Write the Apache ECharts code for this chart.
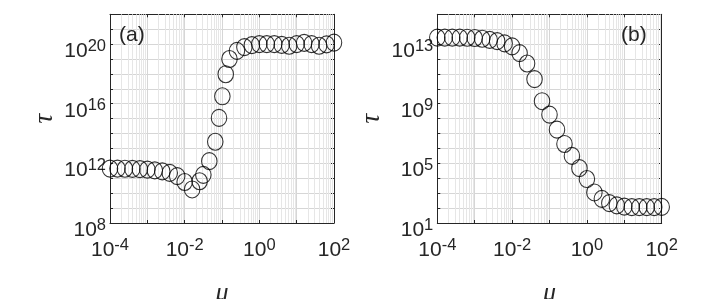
<!DOCTYPE html>
<html><head><meta charset="utf-8">
<script src="https://cdn.jsdelivr.net/npm/echarts@6/dist/echarts.min.js"></script>
<style>html,body{margin:0;padding:0;background:#fff}#c{width:728px;height:299px}</style>
</head><body><div id="c"></div>
<script>
// ---- data (mu, tau) ----
const muA = [1.0e-4, 1.585e-4, 2.512e-4, 3.981e-4, 6.310e-4, 1.0e-3, 1.585e-3, 2.512e-3, 3.981e-3, 6.310e-3,
  1.0e-2, 1.585e-2, 2.512e-2, 3.162e-2, 4.571e-2, 6.607e-2, 8.318e-2, 0.1023, 0.1259, 0.1585,
  0.2512, 0.3981, 0.6310, 1.0, 1.585, 2.512, 3.981, 6.310, 10, 15.85, 25.12, 39.81, 63.10, 100];
const tauA = [4.47e11, 4.47e11, 4.37e11, 4.27e11, 4.07e11, 3.80e11, 3.39e11, 2.88e11, 2.29e11, 1.41e11,
  5.62e10, 1.78e10, 6.31e10, 1.70e11, 1.41e12, 2.82e13, 1.12e15, 3.16e16, 9.55e17, 1.00e19,
  3.55e19, 6.31e19, 8.51e19, 1.0e20, 1.0e20, 1.0e20, 8.91e19, 7.76e19, 1.0e20, 1.20e20, 1.0e20, 7.76e19, 9.55e19, 1.26e20];
const muB = [1.0e-4, 1.585e-4, 2.512e-4, 3.981e-4, 6.310e-4, 1.0e-3, 1.585e-3, 2.512e-3, 3.981e-3, 6.310e-3,
  1.0e-2, 1.585e-2, 2.512e-2, 3.981e-2, 6.310e-2, 0.1, 0.1585, 0.2512, 0.3981, 0.6310,
  1.0, 1.585, 2.512, 3.981, 6.310, 10, 15.85, 25.12, 39.81, 63.10, 100];
const tauB = [2.75e13, 2.75e13, 2.75e13, 2.75e13, 2.69e13, 2.57e13, 2.29e13, 1.91e13, 1.58e13, 1.12e13,
  7.08e12, 2.51e12, 5.01e11, 4.47e10, 1.48e9, 1.86e8, 1.82e7, 2.00e6, 3.16e5, 4.79e4,
  8.91e3, 1.12e3, 417, 214, 151, 126, 117, 115, 115, 115, 120];
// tick label exponents
const xTickExp = [-4, -2, 0, 2];
const yTickExpA = [8, 12, 16, 20];
const yTickExpB = [1, 5, 9, 13];
const panelLabels = ['(a)', '(b)'];

const FONT = 'Liberation Sans, Arial, sans-serif';
const AX = '#262626';
const rich = {
  b: {fontSize: 21, fontFamily: FONT, color: AX, lineHeight: 21, padding: [6, 0, 0, 0]},
  s: {fontSize: 16.5, fontFamily: FONT, color: AX, lineHeight: 16, verticalAlign: 'top'}
};
function supFmt(exps) {
  return function (v) {
    const e = Math.round(v);
    if (Math.abs(v - e) > 1e-6 || exps.indexOf(e) < 0) return '';
    return '{b|10}{s|' + e + '}';
  };
}
const minorX = [];
for (let n = -4; n < 2; n++) for (let m = 2; m <= 9; m++) minorX.push(n + Math.log10(m));

const grids = [
  {left: 110, top: 14.3, width: 224, height: 208.7, outerBoundsMode: 'none'},
  {left: 437.3, top: 14.3, width: 224.4, height: 208.7, outerBoundsMode: 'none'}
];
const yRanges = [[8, 22], [1, 15]];
const yExps = [yTickExpA, yTickExpB];

const xAxes = [], yAxes = [], series = [];
[0, 1].forEach(function (g) {
  xAxes.push({
    gridIndex: g, type: 'value', min: -4, max: 2, interval: 1, position: 'bottom',
    axisLine: {show: true, onZero: false, lineStyle: {color: AX, width: 1}},
    axisTick: {show: true, inside: true, length: 3, lineStyle: {color: AX}},
    axisLabel: {formatter: supFmt(xTickExp), rich: rich, margin: 14, showMinLabel: true, showMaxLabel: true},
    splitLine: {show: true, lineStyle: {color: '#d6d6d6', width: 1}},
    name: 'μ', nameLocation: 'middle', nameGap: 57,
    nameTextStyle: {fontFamily: 'Liberation Serif', fontStyle: 'italic', fontSize: 26, color: AX}
  });
  xAxes.push({
    gridIndex: g, type: 'value', min: -4, max: 2, interval: 1, position: 'top',
    axisLine: {show: true, onZero: false, lineStyle: {color: AX, width: 1}},
    axisTick: {show: true, inside: true, length: 3, lineStyle: {color: AX}},
    axisLabel: {show: false}, splitLine: {show: false}
  });
  yAxes.push({
    gridIndex: g, type: 'value', min: yRanges[g][0], max: yRanges[g][1], interval: 1, position: 'left',
    axisLine: {show: true, onZero: false, lineStyle: {color: AX, width: 1}},
    axisTick: {show: true, inside: true, length: 3, lineStyle: {color: AX}},
    axisLabel: {formatter: supFmt(yExps[g]), rich: rich, margin: 4, padding: [8, 0, 0, 0],
      showMinLabel: true, showMaxLabel: true},
    splitLine: {show: true, lineStyle: {color: '#d6d6d6', width: 1}},
    name: 'τ', nameLocation: 'middle', nameGap: 52,
    nameTextStyle: {fontFamily: 'Liberation Serif', fontStyle: 'italic', fontSize: 27, color: AX}
  });
  yAxes.push({
    gridIndex: g, type: 'value', min: yRanges[g][0], max: yRanges[g][1], interval: 1, position: 'right',
    axisLine: {show: true, onZero: false, lineStyle: {color: AX, width: 1}},
    axisTick: {show: true, inside: true, length: 3, lineStyle: {color: AX}},
    axisLabel: {show: false}, splitLine: {show: false}
  });
  series.push({
    type: 'scatter', xAxisIndex: g * 2, yAxisIndex: g * 2, data: [], silent: true, z: 1,
    markLine: {
      silent: true, z: 1, symbol: ['none', 'none'], label: {show: false}, animation: false,
      lineStyle: {color: '#e6e6e6', width: 1, type: 'solid'},
      emphasis: {disabled: true},
      data: minorX.map(function (v) { return {xAxis: v}; })
    }
  });
});
function pts(mu, tau) { return mu.map(function (m, i) { return [Math.log10(m), Math.log10(tau[i])]; }); }
const circleStyle = {color: 'rgba(0,0,0,0)', borderColor: '#000', borderWidth: 1.1};
series.push({type: 'scatter', xAxisIndex: 0, yAxisIndex: 0, data: pts(muA, tauA), symbol: 'circle',
  symbolSize: [15.5, 17], itemStyle: circleStyle, clip: false, z: 10, emphasis: {disabled: true}});
series.push({type: 'scatter', xAxisIndex: 2, yAxisIndex: 2, data: pts(muB, tauB), symbol: 'circle',
  symbolSize: [15.5, 17], itemStyle: circleStyle, clip: false, z: 10, emphasis: {disabled: true}});

const chart = echarts.init(document.getElementById('c'), null, {renderer: 'canvas'});
chart.setOption({
  animation: false,
  backgroundColor: '#fff',
  grid: grids,
  xAxis: xAxes,
  yAxis: yAxes,
  series: series,
  graphic: [
    {type: 'text', left: 119, top: 25, z: 20, style: {text: panelLabels[0], font: '21px ' + FONT, fill: AX}},
    {type: 'text', left: 621, top: 25, z: 20, style: {text: panelLabels[1], font: '21px ' + FONT, fill: AX}}
  ]
});
</script></body></html>
